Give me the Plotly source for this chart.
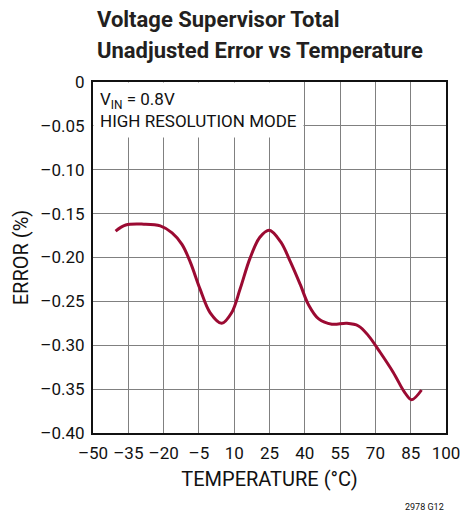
import plotly.graph_objects as go

temperature = [-40.4, -36.1, -28.4, -21.4, -16.4, -12.2, -8.7, -4.5, -0.2, 4.7, 8.9, 12.5,
               16.7, 20.9, 24.9, 29.7, 33.9, 38.1, 41.6, 45.9, 51.5, 57.9, 62.8, 67.0,
               72.0, 77.6, 82.5, 85.4, 89.6]
error_pct = [-0.170, -0.163, -0.162, -0.164, -0.172, -0.185, -0.205, -0.236, -0.263, -0.275, -0.263, -0.236,
             -0.201, -0.177, -0.169, -0.182, -0.205, -0.231, -0.254, -0.270, -0.276, -0.275, -0.278, -0.289,
             -0.308, -0.331, -0.354, -0.362, -0.351]

x_ticks = [-50, -35, -20, -5, 10, 25, 40, 55, 70, 85, 100]
y_ticks = [0, -0.05, -0.10, -0.15, -0.20, -0.25, -0.30, -0.35, -0.40]

FONT = "Roboto, Arial"


def fmt(v, digits):
    if v == 0:
        return "0"
    return ("–" if v < 0 else "") + f"{abs(v):.{digits}f}"


fig = go.Figure()

fig.add_trace(go.Scatter(
    x=temperature,
    y=error_pct,
    mode='lines',
    line=dict(color='#9b0a32', width=3, shape='spline', smoothing=1),
    hoverinfo='skip',
    showlegend=False
))

# Title, two lines
fig.add_annotation(
    xref='paper', yref='paper', x=0.005, y=1.177,
    xanchor='left', yanchor='middle', showarrow=False,
    text="<b>Voltage Supervisor Total</b>",
    font=dict(family=FONT, size=22, color='#231f20')
)
fig.add_annotation(
    xref='paper', yref='paper', x=0.005, y=1.091,
    xanchor='left', yanchor='middle', showarrow=False,
    text="<b>Unadjusted Error vs Temperature</b>",
    font=dict(family=FONT, size=22, color='#231f20')
)

# Condition label with white box over the grid
fig.add_annotation(
    xref='paper', yref='paper', x=0.0, y=1.0,
    xanchor='left', yanchor='top',
    text="V<sub>IN</sub> = 0.8V<br>HIGH RESOLUTION MODE",
    showarrow=False, align='left',
    font=dict(family=FONT, size=17, color='#111'),
    bgcolor='white', borderpad=6
)

fig.add_annotation(
    xref='paper', yref='paper', x=0.94, y=-0.21,
    xanchor='center', yanchor='middle',
    text="2978 G12", showarrow=False,
    font=dict(family=FONT, size=9, color='#111')
)

# page body has an 8px margin, so the figure is 8px smaller
fig.update_layout(
    width=467, height=507,
    margin=dict(l=85, r=29, t=74, b=82),
    plot_bgcolor='white', paper_bgcolor='white',
    font=dict(family=FONT, size=17, color='#111')
)

fig.update_xaxes(
    range=[-50, 100], tickvals=x_ticks,
    ticktext=[fmt(v, 0) for v in x_ticks],
    showgrid=True, gridcolor='#808080', gridwidth=1,
    showline=True, linecolor='#111', linewidth=2, mirror=True,
    ticks='outside', ticklen=4, tickcolor='rgba(0,0,0,0)', zeroline=False,
    title=dict(text="TEMPERATURE (°C)", standoff=10)
)

fig.update_yaxes(
    range=[-0.40, 0], tickvals=y_ticks,
    ticktext=[fmt(v, 2) for v in y_ticks],
    showgrid=True, gridcolor='#808080', gridwidth=1,
    showline=True, linecolor='#111', linewidth=2, mirror=True,
    ticks='outside', ticklen=3, tickcolor='rgba(0,0,0,0)', zeroline=False,
    title=dict(text="ERROR (%)", standoff=6)
)

fig.write_html("out.html")
